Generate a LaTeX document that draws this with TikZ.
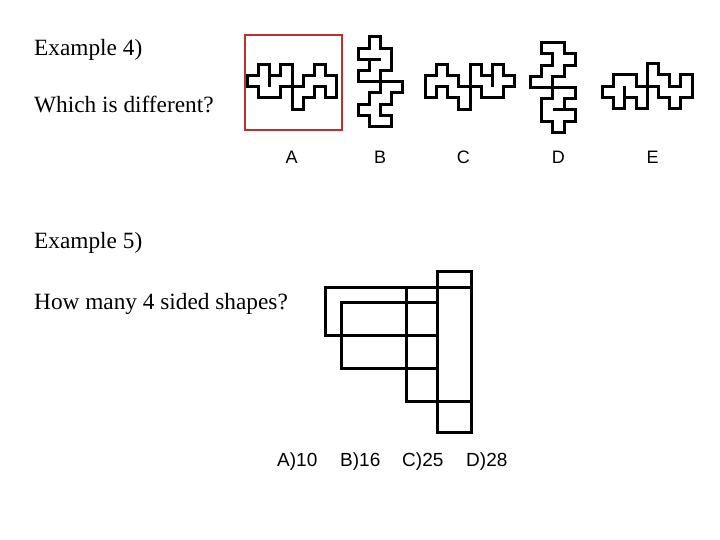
\documentclass[tikz,border=0pt]{standalone}
\usepackage{fontspec}
\setmainfont{Liberation Serif}
\newfontfamily\arialfont{Liberation Sans}
\usepackage{tikz}
\usetikzlibrary{positioning}
\tikzset{
  qtext/.style={font=\fontsize{23.3}{27}\selectfont, anchor=base west, inner sep=0pt},
  letterlabel/.style={font=\arialfont\fontsize{18}{21}\selectfont, anchor=base, inner sep=0pt},
  optlabel/.style={font=\arialfont\fontsize{19}{22}\selectfont, anchor=base west, inner sep=0pt},
  piece/.style={line width=3pt, line join=miter},
  boxline/.style={line width=3pt},
  answerbox/.style={draw=answerred, line width=2pt},
}
\definecolor{answerred}{RGB}{190,48,48}
% 2つのピースを組み合わせた図形（中心が原点）
\newcommand{\puzzlepair}{%
  \draw[piece] (-4,-1) -- (-3,-1) -- (-3,-2) -- (-2,-2) -- (-2,-1) -- (-1,-1) -- (-1,-2)
    -- (0,-2) -- (0,0) -- (-1,0) -- (-1,1) -- (-3,1) -- (-3,0) -- (-4,0) -- cycle;
  \draw[piece] (-2,-1) -- (-2,0);
  \draw[piece] (0,0) -- (1,0) -- (1,-1) -- (2,-1) -- (2,-2) -- (3,-2) -- (3,-1) -- (4,-1)
    -- (4,1) -- (3,1) -- (3,0) -- (2,0) -- (2,1) -- (1,1) -- (1,2) -- (0,2) -- cycle;
}

\begin{document}
\begin{tikzpicture}[x=1pt, y=-1pt]
  \useasboundingbox (0,0) rectangle (720,540);
  % 例4
  \node[qtext] (ex4) at (34,55.7) {Example 4)};
  \node[qtext] (q4) at (34,112.7) {Which is different?};
  \draw[answerbox] (245.3,35.3) rectangle (341.7,130);
  \begin{scope}[shift={(292,86.8)}, scale=11.2]
    \puzzlepair
  \end{scope}
  \begin{scope}[shift={(380.5,81.7)}, rotate=90, xscale=-1, scale=11.2]
    \puzzlepair
  \end{scope}
  \begin{scope}[shift={(470,86.7)}, xscale=-1, scale=11.2]
    \puzzlepair
  \end{scope}
  \begin{scope}[shift={(552.8,87.5)}, rotate=-90, xscale=-1, scale=11.2]
    \puzzlepair
  \end{scope}
  \begin{scope}[shift={(647.3,86.2)}, yscale=-1, scale=11.2]
    \puzzlepair
  \end{scope}
  \node[letterlabel] (labA) at (291.7,163.3) {A};
  \node[letterlabel] (labB) at (380,163.3) {B};
  \node[letterlabel] (labC) at (463.3,163.3) {C};
  \node[letterlabel] (labD) at (558.3,163.3) {D};
  \node[letterlabel] (labE) at (652.5,163.3) {E};
  % 例5
  \node[qtext] (ex5) at (34,248.7) {Example 5)};
  \node[qtext] (q5) at (34,309.5) {How many 4 sided shapes?};
  \draw[boxline] (437.7,271) rectangle (471,432);
  \draw[boxline] (325,287.7) rectangle (437.7,335.7);
  \draw[boxline] (341,302.7) rectangle (437.7,368.3);
  \draw[boxline] (406.7,287.7) rectangle (471,401);
  \node[optlabel] (optA) at (277,466) {A)10};
  \node[optlabel] (optB) at (340,466) {B)16};
  \node[optlabel] (optC) at (402,466) {C)25};
  \node[optlabel] (optD) at (466,466) {D)28};
\end{tikzpicture}
\end{document}
